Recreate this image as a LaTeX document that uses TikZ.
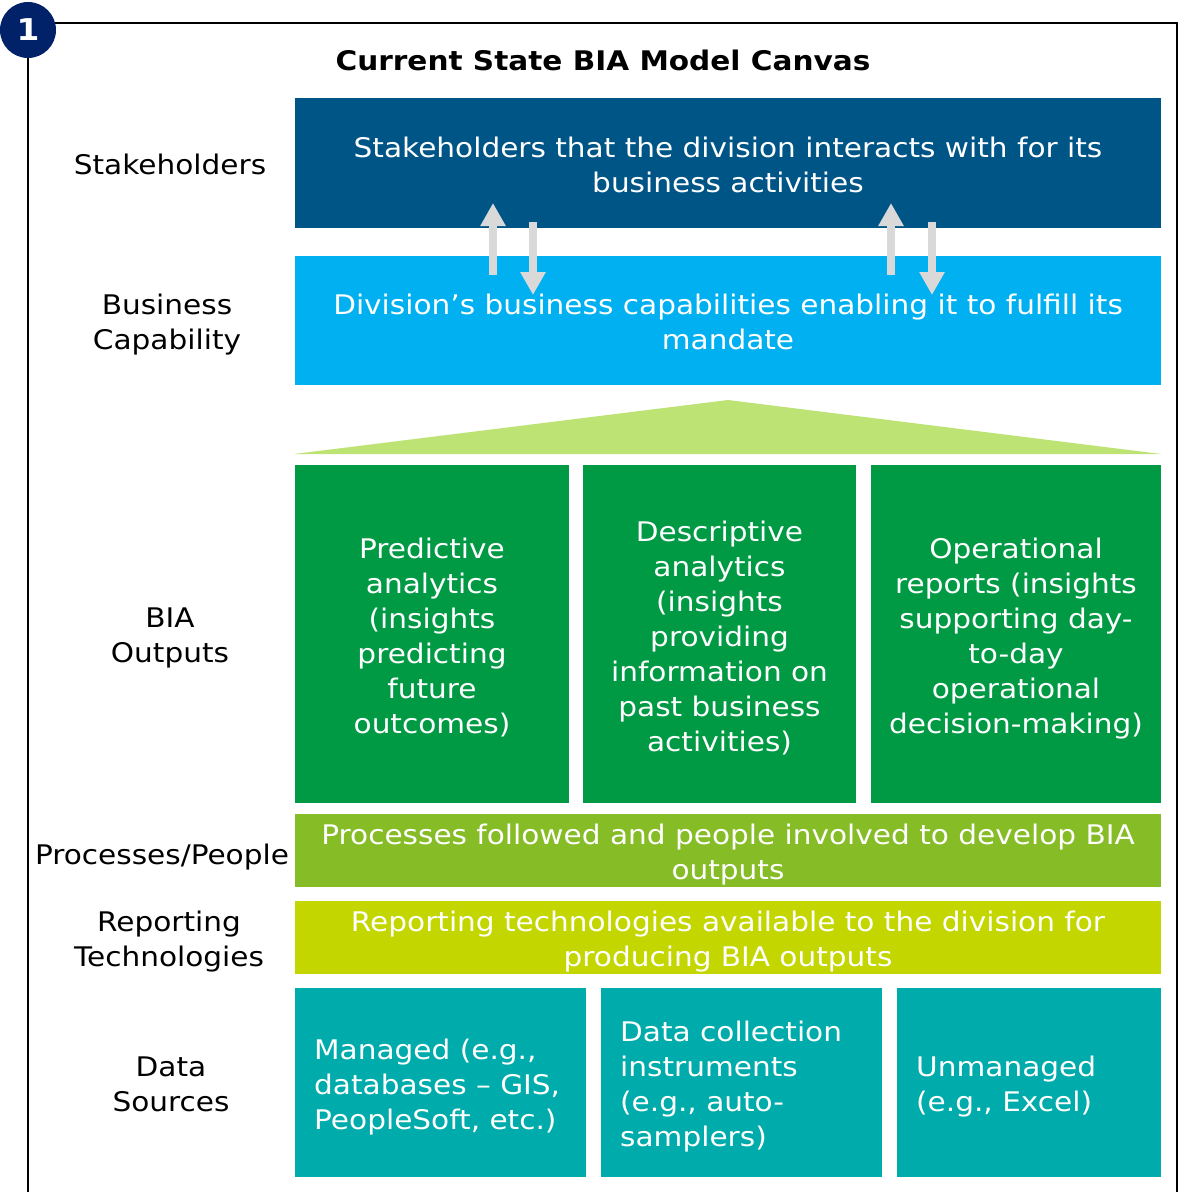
\documentclass[tikz,border=0pt]{standalone}
\usepackage{fontspec}
\setmainfont[FakeStretch=1.095]{DejaVu Sans}
\usetikzlibrary{arrows.meta}
\definecolor{stakeblue}{HTML}{005587}
\definecolor{capblue}{HTML}{00B0F0}
\definecolor{roofgreen}{HTML}{BEE375}
\definecolor{outgreen}{HTML}{009A44}
\definecolor{procgreen}{HTML}{86BC25}
\definecolor{repyellow}{HTML}{C4D600}
\definecolor{datateal}{HTML}{00ABAB}
\definecolor{arrowgray}{HTML}{D9D9D9}
\definecolor{navy}{HTML}{012169}
\tikzset{
  box/.style={rectangle, inner sep=0pt},
  txt/.style={inner sep=0pt, text=white, align=center,
    font=\fontsize{27}{35}\selectfont},
  ltxt/.style={txt, align=left, anchor=west},
  lbl/.style={inner sep=0pt, text=black, align=center,
    font=\fontsize{27}{35}\selectfont},
  flow/.style={draw=arrowgray, line width=8pt, line cap=butt,
    -{Triangle[width=24pt,length=23pt]}},
}
\begin{document}
\begin{tikzpicture}[x=1pt,y=-1pt]
\useasboundingbox (0,0) rectangle (1179,1192);
% frame
\draw[line width=1.5pt, black] (28,1192) -- (28,23) -- (1177,23) -- (1177,1192);
\node[circle, fill=navy, minimum size=56pt, inner sep=0pt, text=white,
  font=\fontsize{30}{32}\selectfont\bfseries] (num) at (28,30) {1};
\node[inner sep=0pt, font=\fontsize{27}{30}\selectfont\bfseries] (title) at (603,60) {Current State BIA Model Canvas};

% rows
\node[box, fill=stakeblue, minimum width=866pt, minimum height=130pt] (stake) at (728,163) {};
\node[txt] (stake-t) at (728,165) {Stakeholders that the division interacts with for its\\business activities};
\node[box, fill=capblue, minimum width=866pt, minimum height=129pt] (cap) at (728,320.5) {};
\node[txt] (cap-t) at (728,321.5) {Division’s business capabilities enabling it to fulfill its\\mandate};

\fill[roofgreen] (294,454) -- (728,400) -- (1161,454) -- cycle;

\node[box, fill=outgreen, minimum width=274pt, minimum height=338pt] (pred) at (432,634) {};
\node[txt] (pred-t) at (432,638) {Predictive\\analytics\\(insights\\predicting\\future\\outcomes)};
\node[box, fill=outgreen, minimum width=273pt, minimum height=338pt] (desc) at (719.5,634) {};
\node[txt] (desc-t) at (719.5,638) {Descriptive\\analytics\\(insights\\providing\\information on\\past business\\activities)};
\node[box, fill=outgreen, minimum width=290pt, minimum height=338pt] (oper) at (1016,634) {};
\node[txt] (oper-t) at (1016,639) {Operational\\reports (insights\\supporting day-\\to-day\\operational\\decision-making)};

\node[box, fill=procgreen, minimum width=866pt, minimum height=73pt] (proc) at (728,850.5) {};
\node[txt] (proc-t) at (728,855) {Processes followed and people involved to develop BIA\\outputs};
\node[box, fill=repyellow, minimum width=866pt, minimum height=73pt] (rep) at (728,937.5) {};
\node[txt] (rep-t) at (728,942) {Reporting technologies available to the division for\\producing BIA outputs};

\node[box, fill=datateal, minimum width=291pt, minimum height=189pt] (man) at (440.5,1082.5) {};
\node[ltxt] (man-t) at (314,1087) {Managed (e.g.,\\databases – GIS,\\PeopleSoft, etc.)};
\node[box, fill=datateal, minimum width=281pt, minimum height=189pt] (coll) at (741.5,1082.5) {};
\node[ltxt] (coll-t) at (620,1087) {Data collection\\instruments\\(e.g., auto-\\samplers)};
\node[box, fill=datateal, minimum width=264pt, minimum height=189pt] (unman) at (1029,1082.5) {};
\node[ltxt] (unman-t) at (916,1087) {Unmanaged\\(e.g., Excel)};

% left labels
\node[lbl] (lstake) at (170,164) {Stakeholders};
\node[lbl] (lcap) at (167,325) {Business\\Capability};
\node[lbl] (lout) at (170,638) {BIA\\Outputs};
\node[lbl] (lproc) at (162,857) {Processes/People};
\node[lbl] (lrep) at (169,942) {Reporting\\Technologies};
\node[lbl] (ldata) at (171,1084) {Data\\Sources};

% arrows
\coordinate (u1s) at (493,275); \coordinate (u1e) at (493,203);
\coordinate (d1s) at (533,222); \coordinate (d1e) at (533,295);
\coordinate (u2s) at (891,275); \coordinate (u2e) at (891,203);
\coordinate (d2s) at (932,222); \coordinate (d2e) at (932,295);
\draw[flow] (u1s) -- (u1e);
\draw[flow] (d1s) -- (d1e);
\draw[flow] (u2s) -- (u2e);
\draw[flow] (d2s) -- (d2e);
\end{tikzpicture}
\end{document}
